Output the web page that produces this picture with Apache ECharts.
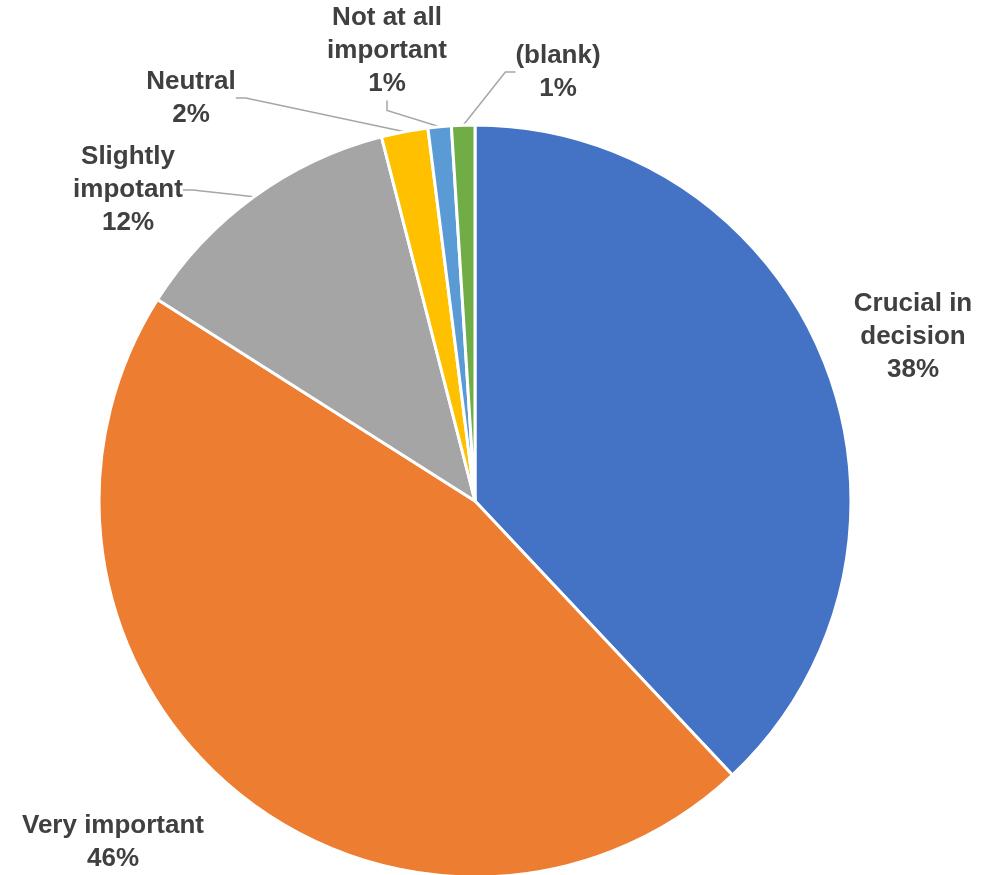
<!DOCTYPE html>
<html>
<head>
<meta charset="utf-8">
<script src="https://cdn.jsdelivr.net/npm/echarts@6/dist/echarts.min.js"></script>
<style>
html,body{margin:0;padding:0;background:#fff;}
#chart{width:982px;height:875px;}
</style>
</head>
<body>
<div id="chart"></div>
<script>
const categories = ['Crucial in decision', 'Very important', 'Slightly impotant', 'Neutral', 'Not at all important', '(blank)'];
const labelTexts = ['Crucial in\ndecision', 'Very important', 'Slightly\nimpotant', 'Neutral', 'Not at all\nimportant', '(blank)'];
const values = [38, 46, 12, 2, 1, 1];
const colors = ['#4472C4', '#ED7D31', '#A5A5A5', '#FFC000', '#5B9BD5', '#70AD47'];

// label placement (centre of each label block) and whether a leader line is drawn
const labelPos = [[913, 337], [113, 842], [128, 190], [191, 98], [387, 51], [558, 72]];
const showLine = [false, false, true, true, true, true];

const chart = echarts.init(document.getElementById('chart'));
chart.setOption({
  animation: false,
  series: [{
    type: 'pie',
    center: [475, 501],
    radius: 376,
    startAngle: 90,
    clockwise: true,
    avoidLabelOverlap: false,
    itemStyle: { borderColor: '#fff', borderWidth: 3 },
    label: {
      show: true,
      position: 'outside',
      fontFamily: '"Liberation Sans", Arial, sans-serif',
      fontWeight: 'bold',
      fontSize: 26,
      lineHeight: 33,
      color: '#404040',
      align: 'center',
      formatter: p => labelTexts[p.dataIndex] + '\n' + Math.round(p.percent) + '%'
    },
    labelLine: { show: true, length: 10, length2: 10, lineStyle: { color: '#A6A6A6', width: 1.5 } },
    labelLayout: p => ({
      x: labelPos[p.dataIndex][0],
      y: labelPos[p.dataIndex][1],
      align: 'center',
      verticalAlign: 'middle'
    }),
    data: categories.map((c, i) => ({
      name: c,
      value: values[i],
      itemStyle: { color: colors[i] },
      labelLine: { show: showLine[i] }
    }))
  }]
});
</script>
</body>
</html>
